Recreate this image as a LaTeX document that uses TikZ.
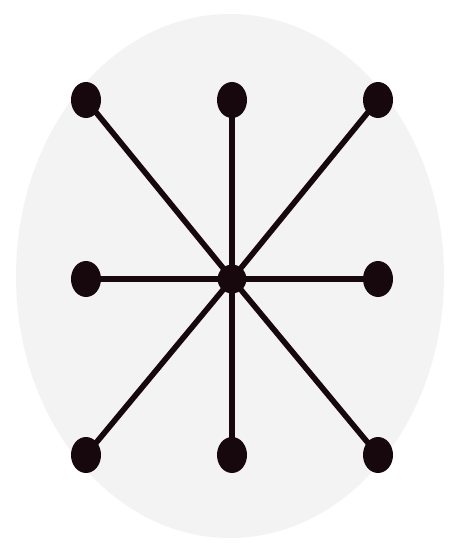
\documentclass[tikz,border=0pt]{standalone}
\usepackage{tikz}
\usetikzlibrary{shapes.geometric}
\definecolor{dotdark}{RGB}{22, 8, 12}
\definecolor{bgpale}{RGB}{243, 243, 243}

\begin{document}
\begin{tikzpicture}[
    x=0.025cm, y=-0.025cm,
    leaf/.style={ellipse, fill=dotdark, inner sep=0pt,
                 minimum width=0.75cm, minimum height=0.9cm},
    hub/.style={circle, fill=dotdark, inner sep=0pt, minimum size=0.72cm},
    spoke/.style={dotdark, line width=4pt}
  ]
    \useasboundingbox (0,0) rectangle (453,546);
    \fill[white] (0,0) rectangle (453,546);
    \fill[bgpale] (230,276) ellipse [x radius=214, y radius=262];

    \node[hub] (center) at (232, 279) {};
    \node[leaf] (nw) at (86, 100) {};
    \node[leaf] (n) at (232, 100) {};
    \node[leaf] (ne) at (378, 100) {};
    \node[leaf] (w) at (86, 279) {};
    \node[leaf] (e) at (378, 279) {};
    \node[leaf] (sw) at (86, 455) {};
    \node[leaf] (s) at (232, 455) {};
    \node[leaf] (se) at (378, 455) {};

    \draw[spoke] (center.center) -- (nw.center);
    \draw[spoke] (center.center) -- (n.center);
    \draw[spoke] (center.center) -- (ne.center);
    \draw[spoke] (center.center) -- (w.center);
    \draw[spoke] (center.center) -- (e.center);
    \draw[spoke] (center.center) -- (sw.center);
    \draw[spoke] (center.center) -- (s.center);
    \draw[spoke] (center.center) -- (se.center);
\end{tikzpicture}
\end{document}
